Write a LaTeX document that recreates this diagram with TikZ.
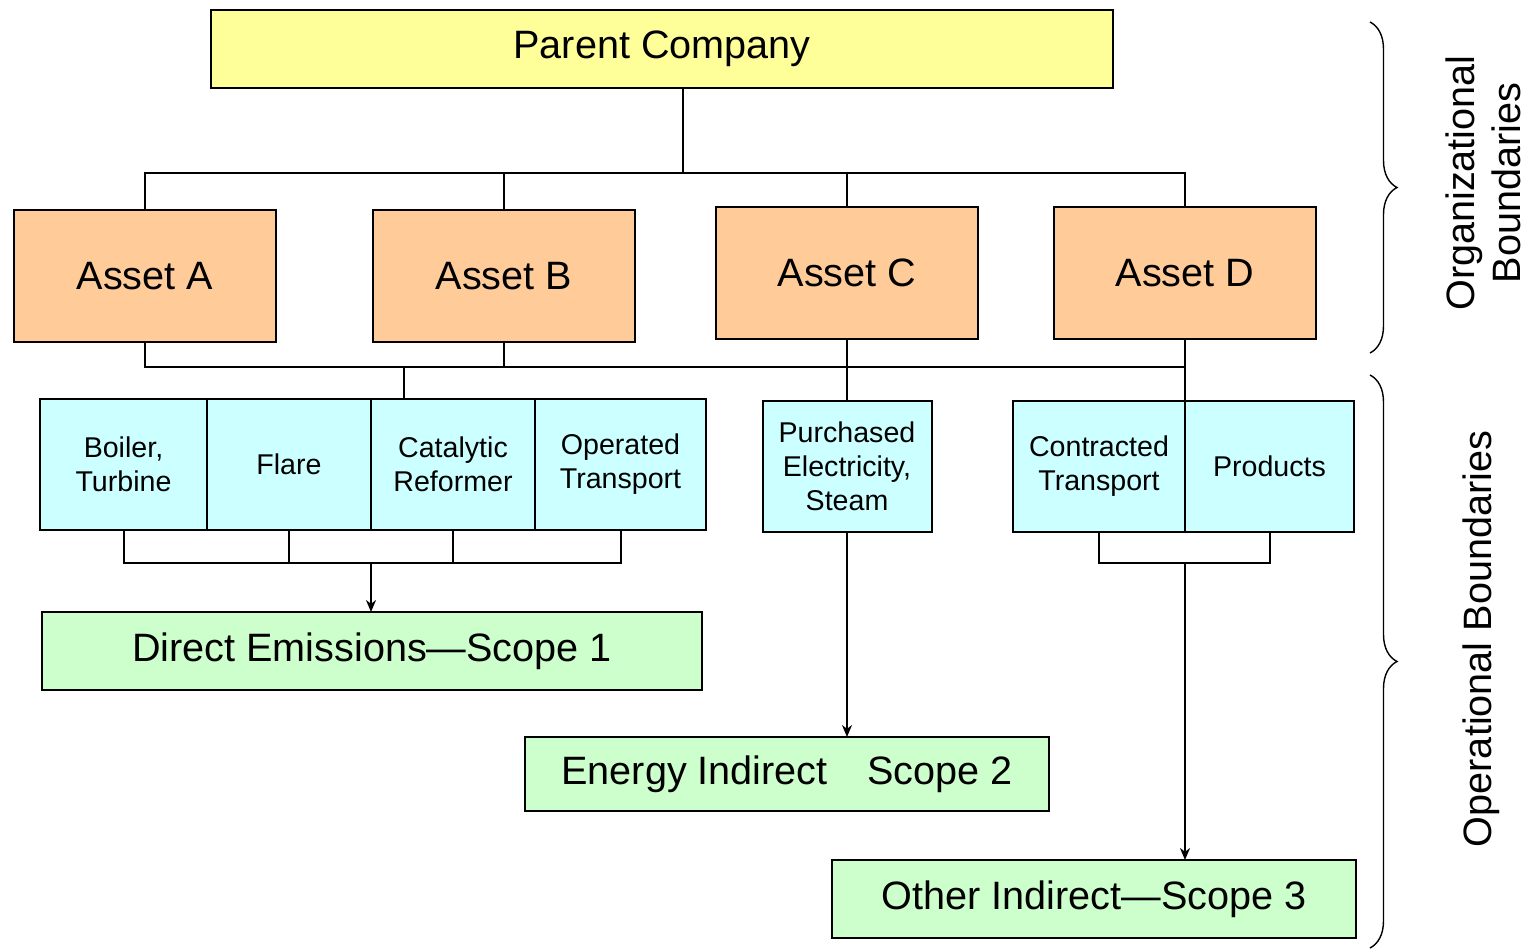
\documentclass[tikz,border=0pt]{standalone}
\usepackage{fontspec}
\setmainfont{Liberation Sans}
\usetikzlibrary{arrows.meta,positioning,decorations.pathreplacing}
\definecolor{parentfill}{HTML}{FFFF99}
\definecolor{assetfill}{HTML}{FFCC99}
\definecolor{srcfill}{HTML}{CCFFFF}
\definecolor{scopefill}{HTML}{CCFFCC}
\tikzset{
  box/.style={draw,outer sep=0pt,inner sep=0pt,align=center},
  parentbox/.style={box,fill=parentfill,minimum width=451pt,minimum height=39pt,font=\fontsize{19.8}{23}\selectfont},
  assetbox/.style={box,fill=assetfill,minimum width=131pt,minimum height=66pt,font=\fontsize{19.8}{23}\selectfont},
  srcbox/.style={box,fill=srcfill,minimum height=65.5pt,font=\fontsize{14.3}{17}\selectfont},
  scopebox/.style={box,fill=scopefill,minimum width=262pt,minimum height=38pt,font=\fontsize{19.8}{23}\selectfont},
  bracket/.style={decorate,decoration={brace,amplitude=13.5pt},line width=0.7pt},
  sidelabel/.style={rotate=90,align=center,font=\fontsize{19.8}{23}\selectfont}
}
\begin{document}
\begin{tikzpicture}[x=0.5pt,y=-0.5pt,>={Stealth[length=6pt,width=5pt]},line width=1pt]
\useasboundingbox (0,0) rectangle (1528,952);

\node[parentbox] (parent) at (662,49) {Parent Company};

\node[assetbox] (assetA) at (145,276) {Asset A};
\node[assetbox] (assetB) at (504,276) {Asset B};
\node[assetbox] (assetC) at (847,273) {Asset C};
\node[assetbox] (assetD) at (1185,273) {Asset D};

\node[srcbox,minimum width=83.5pt] (boiler) at (123.5,464.5) {Boiler,\\Turbine};
\node[srcbox,minimum width=82pt] (flare) [right=0pt of boiler] {Flare};
\node[srcbox,minimum width=82pt] (catalytic) [right=0pt of flare] {Catalytic\\Reformer};
\node[srcbox,minimum width=85.5pt] (operated) [right=0pt of catalytic] {Operated\\Transport};

\node[srcbox,minimum width=84.5pt] (purchased) at (847,466.5) {Purchased\\Electricity,\\Steam};

\node[srcbox,minimum width=86pt] (contracted) at (1099,466.5) {Contracted\\Transport};
\node[srcbox,minimum width=84.5pt] (products) [right=0pt of contracted] {Products};

\node[scopebox,minimum width=330pt,minimum height=39pt] (direct) at (372,651) {Direct Emissions---Scope 1};
\node[scopebox,minimum height=37pt] (energy) at (787,774) {Energy Indirect\hspace{1em}Scope 2};
\node[scopebox,minimum height=39pt] (other) at (1094,899) {Other Indirect---Scope 3};

\coordinate (topbus) at (683,173);
\coordinate (lowbus) at (404,367);
\coordinate (directbus) at (371,563);
\coordinate (otherbus) at (1185,563);

\draw (parent.south -| topbus) -- (topbus);
\draw (assetA.north) |- (assetD.north |- topbus) -- (assetD.north);
\draw (assetB.north) -- (assetB.north |- topbus);
\draw (assetC.north) -- (assetC.north |- topbus);

\draw (assetA.south) |- (assetD.south |- lowbus) -- (assetD.south);
\draw (assetB.south) -- (assetB.south |- lowbus);
\draw (lowbus) -- (lowbus |- boiler.north);
\draw (assetC.south) -- (purchased.north);
\draw (assetD.south |- lowbus) -- (contracted.north east);

\draw (boiler.south) |- (operated.south |- directbus) -- (operated.south);
\draw (flare.south) -- (flare.south |- directbus);
\draw (catalytic.south) -- (catalytic.south |- directbus);
\draw[->] (directbus) -- (direct.north -| directbus);

\draw[->] (purchased.south) -- (purchased.south |- energy.north);

\draw (contracted.south) |- (products.south |- otherbus) -- (products.south);
\draw[->] (otherbus) -- (otherbus |- other.north);

\draw[bracket] (1370,22) -- (1370,353);
\draw[bracket] (1370,375) -- (1370,948);

\node[sidelabel] (orglabel) at (1483,183) {Organizational\\Boundaries};
\node[sidelabel] (oplabel) at (1481,639) {Operational Boundaries};
\end{tikzpicture}
\end{document}
